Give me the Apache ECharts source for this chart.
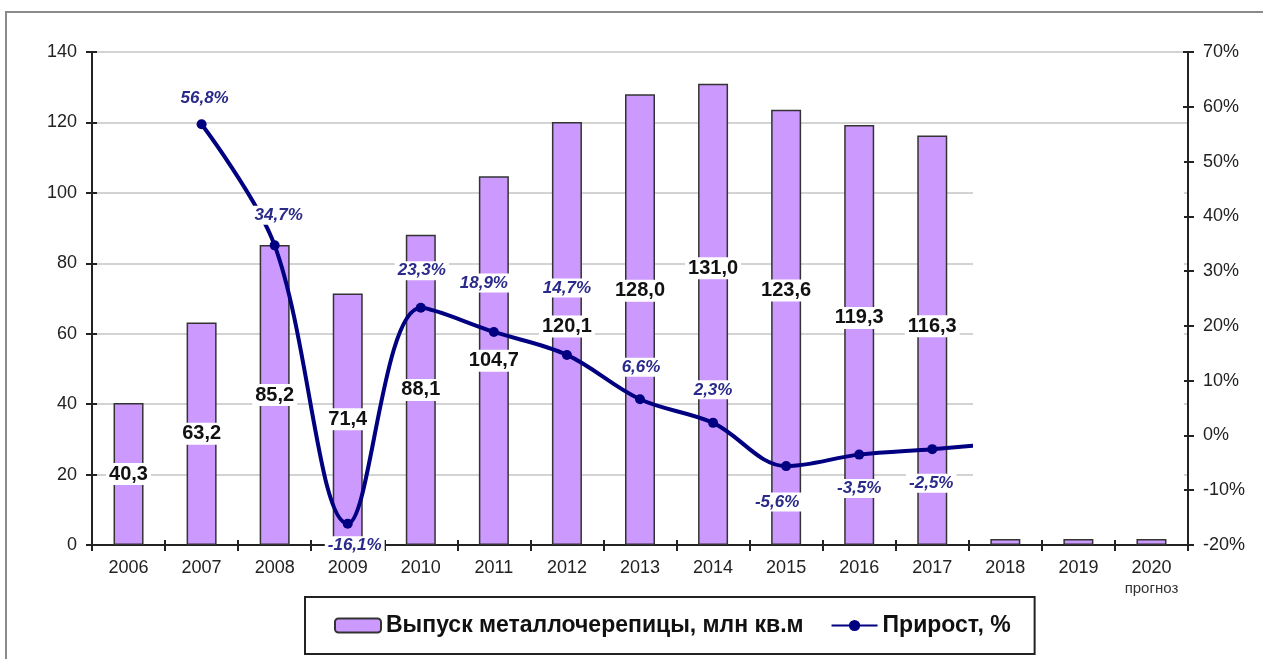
<!DOCTYPE html>
<html>
<head>
<meta charset="utf-8">
<script src="https://cdn.jsdelivr.net/npm/echarts@6/dist/echarts.min.js"></script>
<style>
  html, body { margin: 0; padding: 0; background: #fff; }
  #chart { width: 1263px; height: 659px; }
</style>
</head>
<body>
<div id="chart"></div>
<script>
// данные
var years = ['2006', '2007', '2008', '2009', '2010', '2011', '2012', '2013', '2014', '2015', '2016', '2017', '2018', '2019', '2020'];
var output = [40.3, 63.2, 85.2, 71.4, 88.1, 104.7, 120.1, 128.0, 131.0, 123.6, 119.3, 116.3, 1.7, 1.7, 1.7];
var growth = [null, 56.8, 34.7, -16.1, 23.3, 18.9, 14.7, 6.6, 2.3, -5.6, -3.5, -2.5, -1.4, null, null];
var labeledYears = 12; // подписи только до 2017

// сдвиги подписей (px)
var barLabelShift = [0, 0, 0, 0, 0, 0, -7, -29, -46, -37, -17, -14, 0, 0, 0];
var lineLabelShift = [null, [3, -26], [4, -30], [7, 22], [1, -37], [-10, -49], [0, -67], [1, -32], [0, -33], [-9, 36], [0, 34], [-1, 34], null, null, null];

var FONT = '"Liberation Sans", Arial, sans-serif';

function comma(v) { return v.toFixed(1).replace('.', ','); }

var barData = output.map(function (v, i) {
    return {
        value: v,
        label: i < labeledYears ? { show: true, offset: [0, barLabelShift[i]] } : { show: false }
    };
});

var lineData = growth.map(function (v, i) {
    if (v === null) return null;
    return {
        value: v,
        label: (i < labeledYears && lineLabelShift[i]) ? { show: true, offset: lineLabelShift[i] } : { show: false }
    };
});

var tickStyle = { color: '#222', width: 2 };

var option = {
    animation: false,
    backgroundColor: '#fff',
    textStyle: { fontFamily: FONT },
    grid: { left: 92, right: 75, top: 52, bottom: 114 },
    legend: {
        left: 305,
        top: 597,
        padding: [17, 24, 17, 29],
        borderColor: '#222',
        borderWidth: 2,
        itemGap: 27,
        itemWidth: 46,
        itemHeight: 14,
        textStyle: { fontSize: 23, fontWeight: 'bold', color: '#111', fontFamily: FONT },
        data: ['Выпуск металлочерепицы, млн кв.м', 'Прирост, %']
    },
    xAxis: [{
        type: 'category',
        data: years,
        position: 'bottom',
        axisLine: { onZero: false, lineStyle: { color: '#222', width: 2 } },
        axisTick: { show: true, interval: 0, length: 6, lineStyle: tickStyle },
        axisLabel: {
            interval: 0, margin: 13, fontSize: 18, color: '#222', lineHeight: 20,
            formatter: function (v) { return v === '2020' ? v + '\n{s|прогноз}' : v; },
            rich: { s: { fontSize: 15, color: '#333', lineHeight: 22 } }
        }
    }, {
        type: 'category',
        data: years,
        position: 'bottom',
        axisLine: { show: false, onZero: false },
        axisTick: { show: true, inside: true, interval: 0, length: 5, lineStyle: tickStyle },
        axisLabel: { show: false }
    }],
    yAxis: [{
        type: 'value',
        position: 'left',
        min: 0, max: 140, interval: 20,
        axisLine: { show: true, lineStyle: { color: '#222', width: 2 } },
        axisTick: { show: true, length: 6, lineStyle: tickStyle },
        axisLabel: { margin: 15, fontSize: 18, color: '#222' },
        splitLine: { lineStyle: { color: '#c4c4c4', width: 1.5 } }
    }, {
        type: 'value',
        position: 'right',
        min: -20, max: 70, interval: 10,
        axisLine: { show: true, lineStyle: { color: '#222', width: 2 } },
        axisTick: { show: true, length: 6, lineStyle: tickStyle },
        axisLabel: {
            margin: 15, fontSize: 18, color: '#222',
            formatter: function (v) { return v + '%'; }
        },
        splitLine: { show: false }
    }, {
        type: 'value',
        position: 'left',
        min: 0, max: 140, interval: 20,
        axisLine: { show: false },
        axisTick: { show: true, inside: true, length: 5, lineStyle: tickStyle },
        axisLabel: { show: false },
        splitLine: { show: false }
    }, {
        type: 'value',
        position: 'right',
        min: -20, max: 70, interval: 10,
        axisLine: { show: false },
        axisTick: { show: true, inside: true, length: 5, lineStyle: tickStyle },
        axisLabel: { show: false },
        splitLine: { show: false }
    }],
    series: [{
        name: 'Выпуск металлочерепицы, млн кв.м',
        type: 'bar',
        xAxisIndex: 0,
        yAxisIndex: 0,
        barWidth: 30,
        itemStyle: { color: '#cc99ff', borderColor: '#333', borderWidth: 1.5 },
        label: {
            position: 'inside',
            fontSize: 20,
            fontWeight: 'bold',
            color: '#111',
            backgroundColor: '#fff',
            padding: [1, 3],
            formatter: function (p) { return comma(p.value); }
        },
        data: barData
    }, {
        name: 'Прирост, %',
        type: 'line',
        xAxisIndex: 0,
        yAxisIndex: 1,
        smooth: 0.35,
        connectNulls: false,
        symbol: 'circle',
        symbolSize: 10,
        lineStyle: { color: '#000080', width: 4 },
        itemStyle: { color: '#000080' },
        label: {
            position: 'inside',
            fontSize: 17,
            fontStyle: 'italic',
            fontWeight: 'bold',
            color: '#2a2a8a',
            backgroundColor: '#fff',
            padding: [1, 3],
            formatter: function (p) { return comma(p.value) + '%'; }
        },
        z: 3,
        data: lineData
    }],
    graphic: [{
        type: 'rect',
        z: 100,
        shape: { x: 973, y: 127, width: 211, height: 410 },
        style: { fill: '#fff' }
    }, {
        type: 'rect',
        z: 100,
        shape: { x: 6, y: 12, width: 1300, height: 700 },
        style: { fill: 'none', stroke: '#8a8a8a', lineWidth: 2 }
    }]
};

var myChart = echarts.init(document.getElementById('chart'));
myChart.setOption(option);
</script>
</body>
</html>
